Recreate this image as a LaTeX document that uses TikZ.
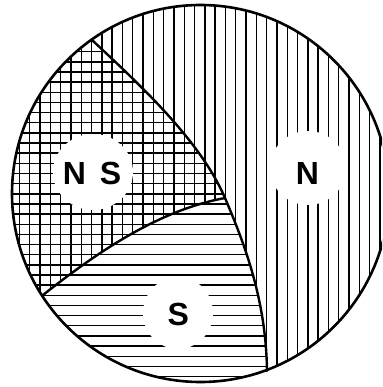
\documentclass[tikz,border=0pt]{standalone}
\usepackage{fontspec}
\setmainfont{Liberation Sans}
\tikzset{
  hatch/.style={line width=1.4pt, black},
  border/.style={line width=2.6pt, black},
  boundary/.style={line width=2.4pt, black, line cap=round},
  blob/.style={fill=white, draw=none},
  lbl/.style={font=\bfseries\fontsize{32}{32}\selectfont, inner sep=0pt, anchor=base}
}
\begin{document}
\begin{tikzpicture}[x=1pt,y=-1pt]
\useasboundingbox (0,0) rectangle (382,387);
\clip (0,0) rectangle (382,387);
% named points
\coordinate (c) at (200.5,193.5);
\coordinate (t) at (92,40);
\coordinate (j) at (225,198);
\coordinate (b) at (267,371);
\coordinate (l) at (43,295);
% vertical hatching: circle minus S region
\begin{scope}
  \clip (c) circle[radius=188.5pt];
  \begin{scope}[even odd rule]
  \clip (-50,-50) rectangle (450,450)
     (0,330) -- (l) .. controls (100,250) and (160,210) .. (j)
     .. controls (245,245) and (266,300) .. (b) -- (267,430) -- (0,430) -- cycle;
  \foreach \i in {-24,...,15} {
    \draw[hatch] (246+10.3*\i,-10) -- (246+10.3*\i,400);
  }
  \end{scope}
\end{scope}
% horizontal hatching: left of main curve (NS and S)
\begin{scope}
  \clip (c) circle[radius=188.5pt];
  \clip (60,10) -- (t) .. controls (140,85) and (200,140) .. (j)
     .. controls (245,245) and (266,300) .. (b) -- (267,430) -- (-20,430) -- (-20,10) -- cycle;
  \foreach \k in {-28,...,12} {
    \draw[hatch] (-10,275+10.15*\k) -- (400,275+10.15*\k);
  }
\end{scope}
% white patches behind labels
\fill[blob] (93,172) ellipse[x radius=40pt, y radius=38pt];
\fill[blob] (308,168) ellipse[x radius=38pt, y radius=37pt];
\fill[blob] (178,313) ellipse[x radius=35pt, y radius=36pt];
% labels
\node[lbl] (ns) at (92,184) {N\hspace{14pt}S};
\node[lbl] (n) at (307.5,184.3) {N};
\node[lbl] (s) at (178.3,325) {S};
% boundaries
\draw[boundary] (t) .. controls (140,85) and (200,140) .. (j)
   .. controls (245,245) and (266,300) .. (b);
\draw[boundary] (l) .. controls (100,250) and (160,210) .. (j);
\draw[border] (c) circle[radius=188.5pt];
\end{tikzpicture}
\end{document}
